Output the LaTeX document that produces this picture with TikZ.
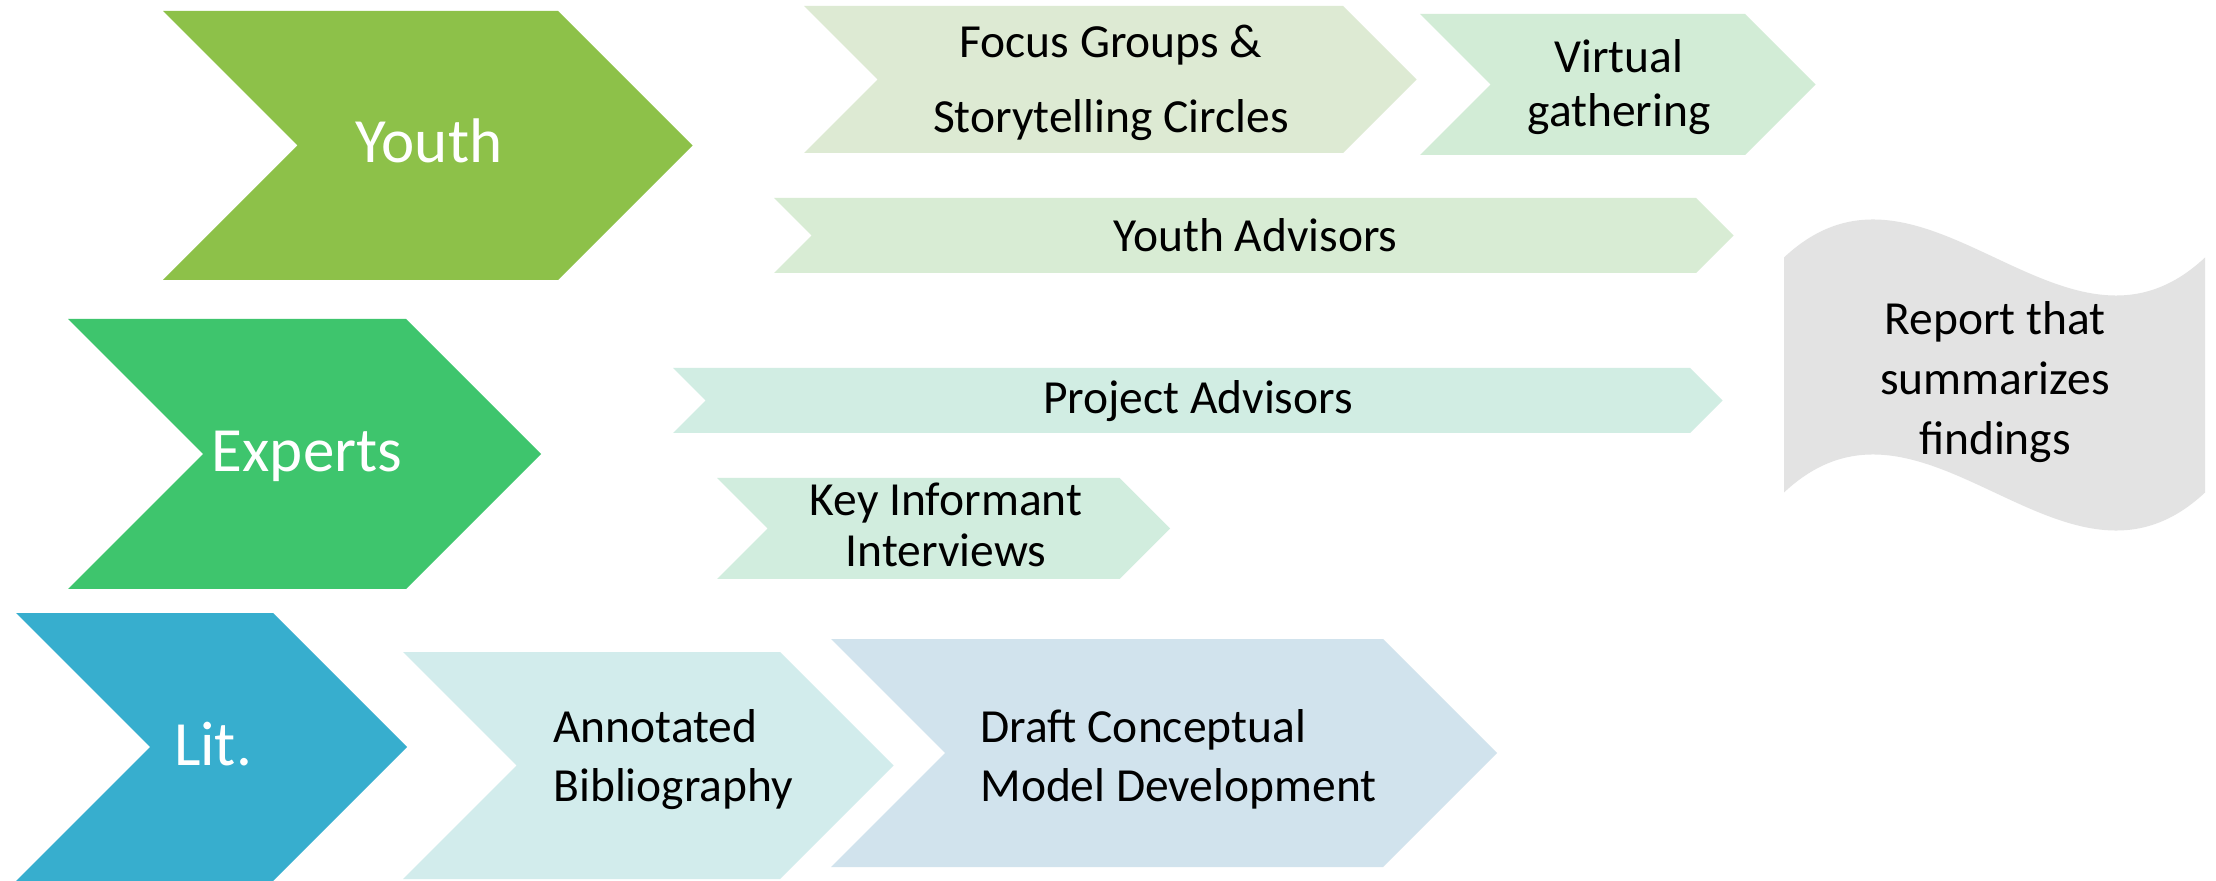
\documentclass[tikz,border=0pt]{standalone}
\usepackage{fontspec}
\setmainfont{Carlito}
\definecolor{cYouth}{RGB}{141,193,73}
\definecolor{cExperts}{RGB}{62,197,109}
\definecolor{cLit}{RGB}{55,174,206}
\definecolor{cFocus}{RGB}{221,234,211}
\definecolor{cVirtual}{RGB}{210,236,214}
\definecolor{cYAdv}{RGB}{216,236,212}
\definecolor{cPAdv}{RGB}{209,237,227}
\definecolor{cKey}{RGB}{209,237,222}
\definecolor{cAnnot}{RGB}{210,236,236}
\definecolor{cDraft}{RGB}{209,227,237}
\definecolor{cReport}{RGB}{227,227,227}
% #1 colour, #2 left x, #3 top-right x, #4 top y, #5 bottom y
\newcommand{\mychev}[5]{%
  \fill[#1] (#2,#4) -- (#3,#4) -- ({#3+(#5-#4)/2},{(#4+#5)/2}) -- (#3,#5)
    -- (#2,#5) -- ({#2+(#5-#4)/2},{(#4+#5)/2}) -- cycle;}
% #1 line spacing (pt), #2 column type, #3 lines
\newcommand{\mylines}[3]{{\fontsize{23.75}{#1}\selectfont
  \begin{tabular}[t]{@{}#2@{}}#3\end{tabular}}}
\begin{document}
\begin{tikzpicture}[x=0.5pt,y=-0.5pt,
  big/.style={inner sep=0pt,anchor=base,text=white,font=\fontsize{31.5}{36}\selectfont},
  lbl/.style={inner sep=0pt,anchor=base,text=black,font=\fontsize{23.75}{28}\selectfont},
  lblw/.style={lbl,anchor=base west}]
\fill[white] (0,0) rectangle (2216,881);
\useasboundingbox (0,0) rectangle (2216,881);
% main chevrons
\mychev{cYouth}{163}{558}{11}{280}
\mychev{cExperts}{68}{406}{319}{589}
\mychev{cLit}{16}{273}{613}{881}
% secondary chevrons
\mychev{cFocus}{804}{1343}{6}{153}
\mychev{cVirtual}{1420}{1745}{14}{155}
\mychev{cYAdv}{774}{1696}{198}{273}
\mychev{cPAdv}{673}{1690}{368}{433}
\mychev{cKey}{717}{1119.5}{478}{579}
\mychev{cAnnot}{403}{780}{652}{879}
\mychev{cDraft}{831}{1383}{639}{867}
% report (wave)
\fill[cReport] (1784,257.5) .. controls (1924.3,125.8) and (2064.7,389.2) .. (2205,257.5)
  -- (2205,492.5) .. controls (2064.7,624.2) and (1924.3,360.8) .. (1784,492.5) -- cycle;
% texts
\node[big] (youth) at (429,163) {Youth};
\node[big] (experts) at (307,472) {Experts};
\node[big] (lit) at (213,765) {Lit.};
\node[lbl] (focus) at (1111,58) {\mylines{37.5}{c}{Focus Groups \&\\Storytelling Circles}};
\node[lbl] (virtual) at (1619,73) {\mylines{27}{c}{Virtual\\gathering}};
\node[lbl] (yadv) at (1255.5,252) {Youth Advisors};
\node[lbl] (padv) at (1198,414) {Project Advisors};
\node[lbl] (key) at (946,516) {\mylines{25.5}{c}{Key Informant\\Interviews}};
\node[lblw] (annot) at (553,742) {\mylines{29.5}{l}{Annotated\\Bibliography}};
\node[lblw] (draft) at (980,742) {\mylines{29.5}{l}{Draft Conceptual\\Model Development}};
\node[lbl] (report) at (1995,335) {\mylines{30}{c}{Report that\\summarizes\\findings}};
\end{tikzpicture}
\end{document}
